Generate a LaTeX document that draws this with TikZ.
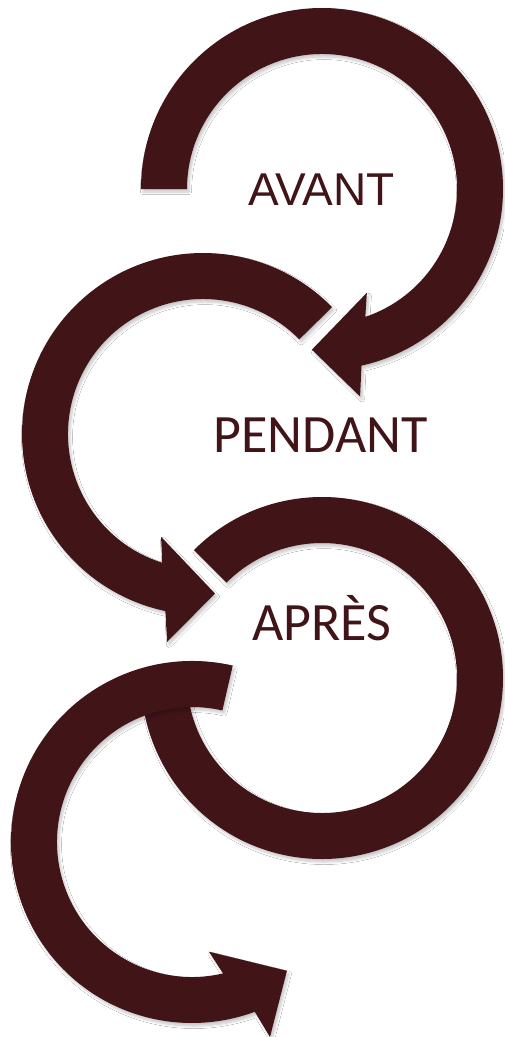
\documentclass[tikz,border=0pt]{standalone}
\usepackage{fontspec}
\setmainfont{Carlito}
\newfontfamily\avantfont{Liberation Sans}
\usetikzlibrary{calc,shadows.blur}
\definecolor{arrowred}{HTML}{411418}
\tikzset{
  arrowshape/.style={fill=arrowred,
    blur shadow={shadow xshift=2pt, shadow yshift=-3pt, shadow blur steps=8,
                 shadow opacity=22, shadow blur radius=2.5pt}},
  txt/.style={text=arrowred, inner sep=0pt, anchor=base}
}
\begin{document}
\begin{tikzpicture}[x=1pt,y=1pt]
\useasboundingbox (0,0) rectangle (504,-1037);
\fill[white] (0,0) rectangle (504,-1037);
\coordinate (c1) at (322,-189);
\coordinate (c2) at (203,-434);
\coordinate (c3) at (322,-678);
\coordinate (c4) at (192,-842);

% Arrow 1 (AVANT), clockwise
\fill[arrowshape] ($(c1)+(180:181)$) arc[start angle=180, end angle=-77.4, radius=181]
  -- ($(c1)+(-79.6:211)$) -- ($(c1)+(-93.6:161)$) -- ($(c1)+(-66.6:113)$)
  -- ($(c1)+(-71.3:135)$) arc[start angle=-71.3, end angle=180, radius=135] -- cycle;

% Arrow 2 (PENDANT), counter-clockwise
\fill[arrowshape] ($(c2)+(44.5:181)$) arc[start angle=44.5, end angle=258, radius=181]
  -- ($(c2)+(260.2:211)$) -- ($(c2)+(274.3:160)$) -- ($(c2)+(247.8:111)$)
  -- ($(c2)+(252.4:135)$) arc[start angle=252.4, end angle=44.5, radius=135] -- cycle;

% Arrow 3 (APRES), clockwise, end hidden under arrow 4
\fill[arrowshape] ($(c3)+(135:181)$) arc[start angle=135, end angle=-178, radius=181]
  -- ($(c3)+(-178:135)$) arc[start angle=-178, end angle=135, radius=135] -- cycle;

% Arrow 4, counter-clockwise
\fill[arrowshape] ($(c4)+(77:181)$) arc[start angle=77, end angle=290.3, radius=181]
  -- ($(c4)+(291.8:210)$) -- ($(c4)+(306.4:160)$) -- ($(c4)+(278.8:111)$)
  -- ($(c4)+(283.3:135)$) arc[start angle=283.3, end angle=77, radius=135] -- cycle;

\node[txt, font={\avantfont\fontsize{46}{46}\selectfont}] (avant) at (321.5,-205) {AVANT};
\node[txt, font={\fontsize{54}{54}\selectfont}] (pendant) at (320.5,-452) {PENDANT};
\node[txt, font={\fontsize{54}{54}\selectfont}] (apres) at (322,-640) {APRÈS};
\end{tikzpicture}
\end{document}
